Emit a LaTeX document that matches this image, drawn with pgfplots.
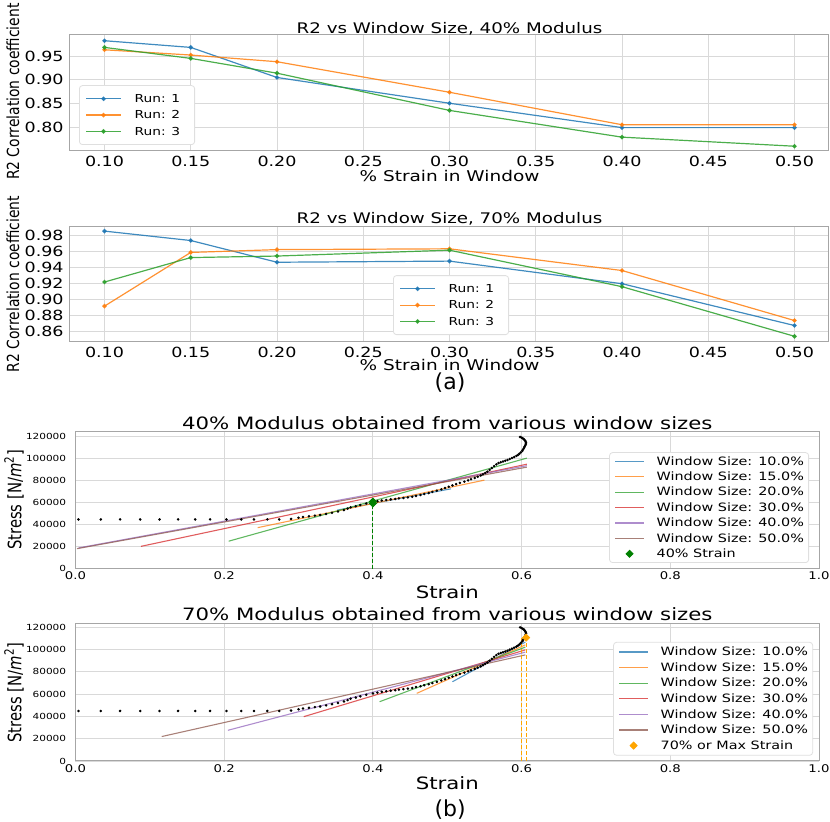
\documentclass[border=0pt]{standalone}
\usepackage{fontspec}
\setmainfont{DejaVu Sans}[FakeStretch=1.25]
\newfontfamily\plainfont{DejaVu Sans}
\usepackage{pgfplots}
\usepackage{pgfplotstable}
\pgfplotsset{compat=1.18}
\newcommand{\fsz}[1]{\fontsize{#1}{#1}\selectfont}
\definecolor{c0}{HTML}{1F77B4}
\definecolor{c1}{HTML}{FF7F0E}
\definecolor{c2}{HTML}{2CA02C}
\definecolor{c3}{HTML}{D62728}
\definecolor{c4}{HTML}{9467BD}
\definecolor{c5}{HTML}{8C564B}
\definecolor{mgreen}{HTML}{008000}
\definecolor{morange}{HTML}{FFA500}

\pgfplotstableread{
strain stress
0.004 44800
0.034 44800
0.060 44800
0.087 44800
0.113 44800
0.138 44800
0.161 44800
0.181 44800
0.203 44800
0.223 44800
0.240 44800
0.258 44800
0.274 44800
0.290 45200
0.300 46300
0.306 47000
0.314 47600
0.322 48200
0.329 48800
0.337 49800
0.345 50900
0.353 52000
0.361 53300
0.366 54600
0.370 55800
0.377 56800
0.383 57900
0.391 59300
0.400 60500
0.406 61300
0.412 62000
0.418 62500
0.424 63000
0.430 63400
0.435 63900
0.441 64300
0.447 64800
0.453 65400
0.458 66200
0.464 67000
0.469 67900
0.475 68800
0.480 69800
0.486 70900
0.492 72100
0.497 73300
0.502 74500
0.507 75700
0.512 76900
0.517 78000
0.523 79100
0.528 80300
0.532 81300
0.537 82500
0.541 83600
0.545 84700
0.548 85800
0.551 87000
0.554 88200
0.557 89800
0.560 91500
0.563 93200
0.566 94800
0.569 96000
0.572 96800
0.575 97400
0.578 98100
0.581 98800
0.584 99700
0.587 100600
0.590 101500
0.593 102500
0.595 103300
0.597 104500
0.599 105800
0.601 107200
0.602 108400
0.603 109600
0.604 110800
0.605 112000
0.6055 113200
0.606 114300
0.6055 115300
0.605 116200
0.604 117000
0.603 117800
0.6015 118500
0.600 119100
0.598 119700
}\stressdata

\pgfplotsset{
  every axis title shift=0pt,
  base/.style={
    scale only axis,
    axis line style={gray!70, line width=0.5pt},
    grid=major,
    major grid style={gray!30, line width=0.45pt},
    major tick length=0pt,
    /pgf/number format/assume math mode=true,
  },
  r2/.style={
    base,
    width=379.5pt, height=58pt,
    xmin=0.08, xmax=0.52,
    xtick={0.10,0.15,0.20,0.25,0.30,0.35,0.40,0.45,0.50},
    xticklabel style={font=\fsz{7}, inner ysep=2.5pt,
      /pgf/number format/fixed, /pgf/number format/fixed zerofill, /pgf/number format/precision=2},
    yticklabel style={font=\fsz{7}, inner xsep=3pt,
      /pgf/number format/fixed, /pgf/number format/fixed zerofill, /pgf/number format/precision=2},
    title style={font=\fsz{7.3}, anchor=base},
    xlabel style={font=\fsz{7.4}, anchor=base},
    ylabel style={font=\plainfont\fsz{6.95}, anchor=center, yscale=1.2},
    xlabel={\% Strain in Window},
    ylabel={R2 Correlation coefficient},
    legend cell align=left,
    legend style={font=\fsz{5.5}, draw=gray!25, rounded corners=1.5pt, fill=white,
      inner xsep=3pt, inner ysep=3.6pt, row sep=2.15pt, column sep=6.5pt,
      nodes={inner sep=0pt, text height=4.9pt, text depth=1.1pt}},
    legend image code/.code={\draw[mark repeat=2, mark phase=2, #1] plot coordinates {(0pt,0pt) (8.75pt,0pt) (17.5pt,0pt)};},
  },
  run/.style={#1, line width=0.6pt, opacity=0.85, mark=*, mark size=0.8pt},
  ss/.style={
    base,
    width=371.75pt,
    xmin=0, xmax=1, ymin=0,
    xtick={0,0.2,0.4,0.6,0.8,1.0},
    ytick={0,20000,40000,60000,80000,100000,120000},
    scaled y ticks=false,
    xticklabel style={font=\fsz{5.3}, inner ysep=1.5pt,
      /pgf/number format/fixed, /pgf/number format/fixed zerofill, /pgf/number format/precision=1},
    yticklabel style={font=\fsz{4.2}, inner xsep=4.5pt,
      /pgf/number format/fixed, /pgf/number format/1000 sep={}},
    title style={font=\fsz{8.5}, anchor=base},
    xlabel style={font=\fsz{8.5}, anchor=base},
    ylabel style={font=\plainfont\fsz{7.4}, anchor=center, yscale=1.25},
    xlabel={Strain},
    ylabel={Stress [N/\textit{m}\textsuperscript{2}]},
    legend cell align=left,
    legend style={font=\fsz{5.75}, draw=gray!25, rounded corners=1.5pt, fill=white,
      inner xsep=2.5pt, column sep=6pt,
      nodes={inner sep=0pt, text height=5pt, text depth=1.2pt}},
    legend image code/.code={\draw[#1] (0pt,0pt) -- (14.5pt,0pt);},
  },
  win/.style={#1, line width=0.55pt, opacity=0.75},
  dat/.style={only marks, mark=*, mark size=0.42pt, black, forget plot},
  diam/.style={only marks, mark=square*, mark size=1.25pt, mark options={rotate=45, fill=#1, draw=#1}, color=#1,
    legend image code/.code={\path (0pt,0pt) (14.5pt,0pt); \draw[##1] plot coordinates {(7.25pt,0pt)};}},
}

\newcommand{\wl}[1]{\makebox[73.5pt][l]{#1}}
\newcommand{\rl}[1]{\makebox[27pt][l]{#1}}

\begin{document}
\begin{tikzpicture}
\path[use as bounding box] (0pt,0pt) rectangle (415pt,-411pt);

% ---------- Plot 1 ----------
\begin{axis}[r2, at={(35pt,-75.5pt)}, anchor=south west,
  ymin=0.751, ymax=0.994,
  ytick={0.80,0.85,0.90,0.95},
  title={R2 vs Window Size, 40\% Modulus},
  title style={at={(0.5,1.0147)}},
  xlabel style={at={(0.5,-0.2647)}},
  ylabel style={at={(-0.0751,0.511)}},
  legend style={at={(0.0119,0.0517)}, anchor=south west},
]
\addplot[run=c0] coordinates {(0.10,0.982)(0.15,0.968)(0.20,0.905)(0.30,0.851)(0.40,0.800)(0.50,0.800)};
\addlegendentry{\rl{Run: 1}}
\addplot[run=c1] coordinates {(0.10,0.963)(0.15,0.952)(0.20,0.938)(0.30,0.874)(0.40,0.806)(0.50,0.806)};
\addlegendentry{\rl{Run: 2}}
\addplot[run=c2] coordinates {(0.10,0.968)(0.15,0.945)(0.20,0.914)(0.30,0.836)(0.40,0.780)(0.50,0.761)};
\addlegendentry{\rl{Run: 3}}
\end{axis}

% ---------- Plot 2 ----------
\begin{axis}[r2, at={(35pt,-170.85pt)}, anchor=south west, height=57.5pt,
  ymin=0.8475, ymax=0.9905,
  ytick={0.86,0.88,0.90,0.92,0.94,0.96,0.98},
  title={R2 vs Window Size, 70\% Modulus},
  title style={at={(0.5,1.0235)}},
  xlabel style={at={(0.5,-0.252)}},
  ylabel style={at={(-0.0751,0.5)}},
  legend style={at={(0.4256,0.058)}, anchor=south west},
  extra description/.code={\node[font=\plainfont\fsz{11}] at (0.5007,-0.359) {(a)};},
]
\addplot[run=c0] coordinates {(0.10,0.985)(0.15,0.9733)(0.20,0.9463)(0.30,0.9477)(0.40,0.9196)(0.50,0.8676)};
\addlegendentry{\rl{Run: 1}}
\addplot[run=c1] coordinates {(0.10,0.8917)(0.15,0.9585)(0.20,0.962)(0.30,0.963)(0.40,0.936)(0.50,0.8738)};
\addlegendentry{\rl{Run: 2}}
\addplot[run=c2] coordinates {(0.10,0.9217)(0.15,0.9521)(0.20,0.954)(0.30,0.9613)(0.40,0.9159)(0.50,0.8542)};
\addlegendentry{\rl{Run: 3}}
\end{axis}

% ---------- Plot 3 ----------
\begin{axis}[ss, at={(37.75pt,-284.35pt)}, anchor=south west, height=68.7pt,
  ymax=124900,
  title={40\% Modulus obtained from various window sizes},
  title style={at={(0.5,1.0095)}},
  xlabel style={at={(0.5,-0.2154)}},
  ylabel style={at={(-0.0827,0.5)}},
  legend style={at={(0.9866,0.0415)}, anchor=south east, inner ysep=1.3pt, row sep=1.5pt},
]
\addplot[win=c0] coordinates {(0.352,53250)(0.505,72600)};
\addlegendentry{\wl{Window Size: 10.0\%}}
\addplot[win=c1] coordinates {(0.245,37300)(0.550,80500)};
\addlegendentry{\wl{Window Size: 15.0\%}}
\addplot[win=c2] coordinates {(0.206,25000)(0.607,100500)};
\addlegendentry{\wl{Window Size: 20.0\%}}
\addplot[win=c3] coordinates {(0.088,20300)(0.607,95000)};
\addlegendentry{\wl{Window Size: 30.0\%}}
\addplot[win=c4] coordinates {(0.004,18900)(0.607,93600)};
\addlegendentry{\wl{Window Size: 40.0\%}}
\addplot[win=c5] coordinates {(0.002,18200)(0.607,92300)};
\addlegendentry{\wl{Window Size: 50.0\%}}
\addplot[dat] table[x=strain, y=stress] {\stressdata};
\addplot[mgreen, line width=0.5pt, dash pattern=on 2pt off 1pt, forget plot] coordinates {(0.4,0)(0.4,61000)};
\addplot[diam=mgreen] coordinates {(0.4,61000)(0.4,59300)};
\addlegendentry{\wl{40\% Strain}}
\end{axis}

% ---------- Plot 4 ----------
\begin{axis}[ss, at={(37.75pt,-380.5pt)}, anchor=south west, height=68.5pt,
  ymax=122700,
  title={70\% Modulus obtained from various window sizes},
  title style={at={(0.5,1.024)}},
  xlabel style={at={(0.5,-0.2066)}},
  ylabel style={at={(-0.0827,0.5)}},
  legend style={at={(0.992,0.0387)}, anchor=south east, inner ysep=1.75pt, row sep=1.6pt},
  extra description/.code={\node[font=\plainfont\fsz{11}] at (0.504,-0.358) {(b)};},
]
\addplot[win=c0] coordinates {(0.507,71000)(0.605,106500)};
\addlegendentry{\wl{Window Size: 10.0\%}}
\addplot[win=c1] coordinates {(0.459,60600)(0.605,104000)};
\addlegendentry{\wl{Window Size: 15.0\%}}
\addplot[win=c2] coordinates {(0.409,53100)(0.605,102000)};
\addlegendentry{\wl{Window Size: 20.0\%}}
\addplot[win=c3] coordinates {(0.307,39700)(0.605,99500)};
\addlegendentry{\wl{Window Size: 30.0\%}}
\addplot[win=c4] coordinates {(0.205,27500)(0.605,97500)};
\addlegendentry{\wl{Window Size: 40.0\%}}
\addplot[win=c5] coordinates {(0.116,21900)(0.605,95000)};
\addlegendentry{\wl{Window Size: 50.0\%}}
\addplot[dat] table[x=strain, y=stress] {\stressdata};
\addplot[morange, line width=0.5pt, dash pattern=on 2pt off 1pt, forget plot] coordinates {(0.600,0)(0.600,110500)};
\addplot[morange, line width=0.5pt, dash pattern=on 2pt off 1pt, forget plot] coordinates {(0.606,0)(0.606,110500)};
\addplot[diam=morange] coordinates {(0.606,110500)};
\addlegendentry{\wl{70\% or Max Strain}}
\end{axis}
\end{tikzpicture}
\end{document}
